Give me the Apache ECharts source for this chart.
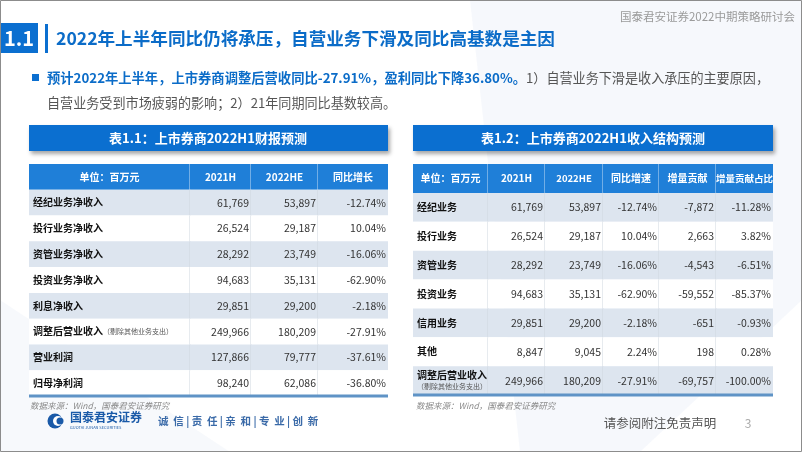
<!DOCTYPE html>
<html>
<head>
<meta charset="utf-8">
<script src="https://cdn.jsdelivr.net/npm/echarts@6/dist/echarts.min.js"></script>
<style>
  html, body { margin: 0; padding: 0; background: #fff; }
  #main { width: 802px; height: 452px; }
</style>
</head>
<body>
<div id="main"></div>
<script>
// 表1.1
var leftHeaders = ['单位：百万元', '2021H', '2022HE', '同比增长'];
var leftRows = ['经纪业务净收入', '投行业务净收入', '资管业务净收入', '投资业务净收入', '利息净收入', '调整后营业收入', '营业利润', '归母净利润'];
var left2021 = [61769, 26524, 28292, 94683, 29851, 249966, 127866, 98240];
var left2022 = [53897, 29187, 23749, 35131, 29200, 180209, 79777, 62086];
var leftYoy = [-12.74, 10.04, -16.06, -62.90, -2.18, -27.91, -37.61, -36.80];

// 表1.2
var rightHeaders = ['单位：百万元', '2021H', '2022HE', '同比增速', '增量贡献', '增量贡献占比'];
var rightRows = ['经纪业务', '投行业务', '资管业务', '投资业务', '信用业务', '其他', '调整后营业收入'];
var right2021 = [61769, 26524, 28292, 94683, 29851, 8847, 249966];
var right2022 = [53897, 29187, 23749, 35131, 29200, 9045, 180209];
var rightYoy = [-12.74, 10.04, -16.06, -62.90, -2.18, 2.24, -27.91];
var rightDelta = [-7872, 2663, -4543, -59552, -651, 198, -69757];
var rightShare = [-11.28, 3.82, -6.51, -85.37, -0.93, 0.28, -100.00];

var adjNote = '（剔除其他业务支出）';

// column edges (px inside each table)
var leftEdges = [0, 161, 222, 289, 359];
var rightEdges = [0, 75, 132, 190, 246, 303, 360];

var CN = '"Noto Sans CJK SC", sans-serif';

function fmtNum(v) { return v.toLocaleString('en-US'); }
function fmtPct(v) { return v.toFixed(2) + '%'; }

function buildCells(headers, rows, cols, twoLine) {
    var cells = [];
    headers.forEach(function (h, c) {
        cells.push({ value: [c, 0], text: h, kind: 'head' });
    });
    rows.forEach(function (name, i) {
        var label;
        if (name === '调整后营业收入') {
            label = twoLine ? '{b|' + name + '}\n{s|' + adjNote + '}' : '{b|' + name + '}{s|' + adjNote + '}';
        } else {
            label = '{b|' + name + '}';
        }
        cells.push({ value: [0, i + 1], text: label, kind: 'label' });
        cols.forEach(function (col, c) {
            cells.push({ value: [c + 1, i + 1], text: col.fmt(col.data[i]), kind: 'num' });
        });
    });
    return cells;
}

var leftCells = buildCells(leftHeaders, leftRows, [
    { data: left2021, fmt: fmtNum },
    { data: left2022, fmt: fmtNum },
    { data: leftYoy, fmt: fmtPct }
], false);

var rightCells = buildCells(rightHeaders, rightRows, [
    { data: right2021, fmt: fmtNum },
    { data: right2022, fmt: fmtNum },
    { data: rightYoy, fmt: fmtPct },
    { data: rightDelta, fmt: fmtNum },
    { data: rightShare, fmt: fmtPct }
], true);

function tableRenderer(edges, cells, nRows) {
    var nCols = edges.length - 1;
    return function (params, api) {
        var cell = cells[params.dataIndex];
        var col = api.value(0);
        var row = api.value(1);
        var p0 = api.coord([edges[col], row]);
        var p1 = api.coord([edges[col + 1], row]);
        var h = api.size([0, 1])[1];
        var x = p0[0], y = p0[1] - h / 2, w = p1[0] - p0[0];
        var children = [];
        var fill = row === 0 ? '#1f7fd8' : (row % 2 === 1 ? '#dde5ef' : '#ffffff');
        children.push({ type: 'rect', shape: { x: x, y: y, width: w, height: h }, style: { fill: fill } });
        if (col < nCols - 1) {
            children.push({
                type: 'line',
                shape: { x1: x + w, y1: y, x2: x + w, y2: y + h },
                style: { stroke: row === 0 ? 'rgba(255,255,255,0.75)' : '#cfd6df', lineWidth: 1 }
            });
        }
        if (row === nRows) {
            children.push({
                type: 'line',
                shape: { x1: x, y1: y + h, x2: x + w, y2: y + h },
                style: { stroke: '#5f93c6', lineWidth: 3 }
            });
        }
        if (cell.kind === 'head') {
            var fs = cell.text.length * 10 > w ? 9.5 : 10;
            children.push({
                type: 'text',
                style: {
                    x: x + w / 2, y: y + h / 2, text: cell.text, fill: '#ffffff',
                    font: 'bold ' + fs + 'px ' + CN, align: 'center', verticalAlign: 'middle'
                }
            });
        } else if (cell.kind === 'label') {
            children.push({
                type: 'text',
                style: {
                    x: x + 4, y: y + h / 2, text: cell.text, align: 'left', verticalAlign: 'middle',
                    rich: {
                        b: { fontFamily: CN, fontWeight: 'bold', fontSize: 10, fill: '#111111', color: '#111111', lineHeight: 12 },
                        s: { fontFamily: CN, fontSize: 7, fill: '#555555', color: '#555555', lineHeight: 10 }
                    }
                }
            });
        } else {
            children.push({
                type: 'text',
                style: {
                    x: x + w - 2, y: y + h / 2, text: cell.text, fill: '#333333',
                    font: '10.5px ' + CN, align: 'right', verticalAlign: 'middle'
                }
            });
        }
        return { type: 'group', children: children };
    };
}

function rowCats(rows) { return ['head'].concat(rows); }

var chart = echarts.init(document.getElementById('main'), null, { renderer: 'canvas' });

var option = {
    backgroundColor: '#ffffff',
    animation: false,
    grid: [
        { left: 29, top: 164, width: 359, height: 232 },
        { left: 413, top: 164, width: 360, height: 231 }
    ],
    xAxis: [
        { gridIndex: 0, type: 'value', min: 0, max: leftEdges[leftEdges.length - 1], show: false },
        { gridIndex: 1, type: 'value', min: 0, max: rightEdges[rightEdges.length - 1], show: false }
    ],
    yAxis: [
        { gridIndex: 0, type: 'category', data: rowCats(leftRows), inverse: true, show: false },
        { gridIndex: 1, type: 'category', data: rowCats(rightRows), inverse: true, show: false }
    ],
    graphic: [
        // frame and soft background
        { type: 'polygon', shape: { points: [[470, 0], [802, 0], [802, 300], [640, 452], [520, 452]] }, style: { fill: 'rgba(228,236,245,0.35)' }, z: -10 },
        { type: 'polygon', shape: { points: [[0, 300], [230, 452], [0, 452]] }, style: { fill: 'rgba(228,236,245,0.3)' }, z: -10 },
        { type: 'rect', shape: { x: 0.5, y: 0.5, width: 801, height: 451 }, style: { fill: 'none', stroke: '#8c8c8c', lineWidth: 1 }, z: 100 },
        // header
        { type: 'text', style: { x: 795, y: 17, text: '国泰君安证券2022中期策略研讨会', fill: '#9a9a9a', font: '11.5px ' + CN, align: 'right', verticalAlign: 'middle' } },
        { type: 'rect', shape: { x: 0, y: 23, width: 38, height: 30 }, style: { fill: '#0b6fd0' } },
        { type: 'text', style: { x: 19, y: 38, text: '1.1', fill: '#ffffff', font: 'bold 20px ' + CN, align: 'center', verticalAlign: 'middle' } },
        { type: 'rect', shape: { x: 45, y: 24, width: 3, height: 29 }, style: { fill: '#0b6fd0' } },
        { type: 'text', style: { x: 56, y: 38, text: '2022年上半年同比仍将承压，自营业务下滑及同比高基数是主因', fill: '#0b6cc8', font: 'bold 17.6px ' + CN, align: 'left', verticalAlign: 'middle' } },
        // bullet text
        { type: 'rect', shape: { x: 32, y: 74, width: 7, height: 7 }, style: { fill: '#0b6fd0' } },
        {
            type: 'text',
            style: {
                x: 47, y: 78, align: 'left', verticalAlign: 'middle',
                text: '{b|预计2022年上半年，上市券商调整后营收同比-27.91%，盈利同比下降36.80%。}{n|1）自营业务下滑是收入承压的主要原因，}',
                rich: {
                    b: { fontFamily: CN, fontWeight: 'bold', fontSize: 13.3, fill: '#0b6cc8', color: '#0b6cc8' },
                    n: { fontFamily: CN, fontSize: 13.1, fill: '#555555', color: '#555555' }
                }
            }
        },
        { type: 'text', style: { x: 47, y: 103, text: '自营业务受到市场疲弱的影响；2）21年同期同比基数较高。', fill: '#555555', font: '13.1px ' + CN, align: 'left', verticalAlign: 'middle' } },
        // table titles
        { type: 'rect', shape: { x: 29, y: 125, width: 359, height: 26 }, style: { fill: '#0b6fd0', shadowBlur: 4, shadowOffsetX: 2, shadowOffsetY: 3, shadowColor: 'rgba(0,0,0,0.35)' } },
        { type: 'text', style: { x: 208, y: 138, text: '表1.1：上市券商2022H1财报预测', fill: '#ffffff', font: 'bold 13px ' + CN, align: 'center', verticalAlign: 'middle' } },
        { type: 'rect', shape: { x: 413, y: 125, width: 360, height: 26 }, style: { fill: '#0b6fd0', shadowBlur: 4, shadowOffsetX: 2, shadowOffsetY: 3, shadowColor: 'rgba(0,0,0,0.35)' } },
        { type: 'text', style: { x: 593, y: 138, text: '表1.2：上市券商2022H1收入结构预测', fill: '#ffffff', font: 'bold 13px ' + CN, align: 'center', verticalAlign: 'middle' } },
        // sources
        { type: 'text', style: { x: 30, y: 406, text: '数据来源：Wind，国泰君安证券研究', fill: '#8a8a8a', font: 'italic 8.5px ' + CN, align: 'left', verticalAlign: 'middle' } },
        { type: 'text', style: { x: 416, y: 406, text: '数据来源：Wind，国泰君安证券研究', fill: '#8a8a8a', font: 'italic 8.5px ' + CN, align: 'left', verticalAlign: 'middle' } },
        // footer logo
        { type: 'circle', shape: { cx: 55, cy: 421, r: 7.5 }, style: { fill: '#1a5aa8' } },
        { type: 'circle', shape: { cx: 58, cy: 421, r: 5 }, style: { fill: '#ffffff' } },
        { type: 'circle', shape: { cx: 60, cy: 421, r: 3.5 }, style: { fill: '#1a5aa8' } },
        { type: 'text', style: { x: 70, y: 417, text: '国泰君安证券', fill: '#1a5aa8', font: 'bold 12px ' + CN, align: 'left', verticalAlign: 'middle' } },
        { type: 'text', style: { x: 70, y: 427, text: 'GUOTAI JUNAN SECURITIES', fill: '#1a5aa8', font: '4px ' + CN, align: 'left', verticalAlign: 'middle' } },
        { type: 'text', style: { x: 158, y: 421, text: '诚  信 | 责  任 | 亲  和 | 专  业 | 创  新', fill: '#3a6aa8', font: 'bold 10.5px ' + CN, align: 'left', verticalAlign: 'middle' } },
        { type: 'text', style: { x: 660, y: 423, text: '请参阅附注免责声明', fill: '#555555', font: '12.5px ' + CN, align: 'center', verticalAlign: 'middle' } },
        { type: 'text', style: { x: 748, y: 423, text: '3', fill: '#aaaaaa', font: '12px ' + CN, align: 'center', verticalAlign: 'middle' } }
    ],
    series: [
        {
            type: 'custom',
            xAxisIndex: 0,
            yAxisIndex: 0,
            renderItem: tableRenderer(leftEdges, leftCells, leftRows.length),
            data: leftCells.map(function (c) { return c.value; })
        },
        {
            type: 'custom',
            xAxisIndex: 1,
            yAxisIndex: 1,
            renderItem: tableRenderer(rightEdges, rightCells, rightRows.length),
            data: rightCells.map(function (c) { return c.value; })
        }
    ]
};

chart.setOption(option);
</script>
</body>
</html>
